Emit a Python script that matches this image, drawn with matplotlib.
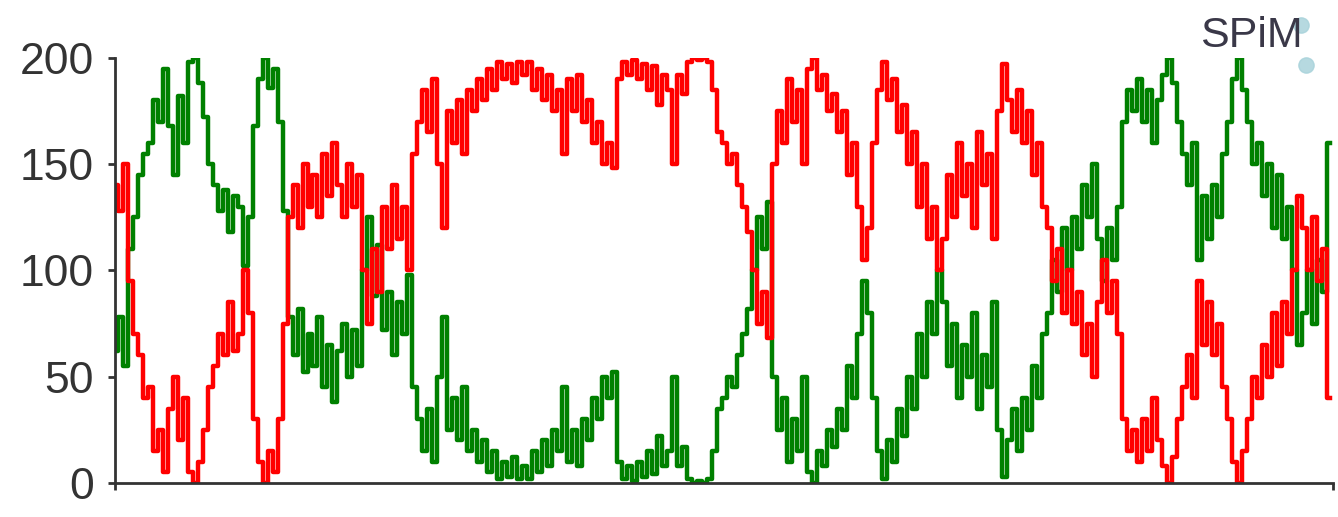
import matplotlib.pyplot as plt

# copy number of the two species over time (one value per step)
red = [140, 128, 150, 95, 70, 60, 40, 45, 15, 25, 5, 35, 50, 20, 40, 5, 0, 10, 25, 45,
       55, 70, 60, 85, 62, 70, 100, 80, 30, 10, 0, 15, 5, 30, 75, 125, 140, 120, 150, 130,
       145, 125, 155, 135, 160, 140, 125, 150, 130, 145, 100, 75, 110, 90, 130, 110, 140, 115, 130, 100,
       155, 170, 185, 165, 190, 150, 120, 175, 160, 180, 155, 185, 175, 190, 180, 195, 185, 198, 190, 197,
       188, 198, 192, 198, 185, 195, 180, 192, 175, 185, 155, 190, 175, 192, 170, 180, 160, 170, 150, 160,
       148, 190, 198, 192, 199, 190, 197, 185, 196, 178, 192, 185, 150, 192, 183, 198, 200, 199, 200, 198,
       185, 165, 160, 150, 155, 140, 130, 118, 100, 75, 90, 68, 150, 175, 160, 190, 170, 185, 150, 195,
       200, 185, 192, 175, 183, 165, 175, 145, 160, 130, 105, 120, 160, 185, 198, 180, 190, 165, 178, 150,
       165, 130, 150, 115, 130, 100, 115, 145, 125, 160, 135, 150, 120, 165, 140, 155, 115, 175, 197, 180,
       165, 185, 160, 175, 145, 160, 130, 120, 95, 110, 80, 100, 75, 90, 60, 75, 50, 85, 105, 80,
       95, 70, 30, 15, 25, 10, 30, 15, 40, 20, 8, 0, 12, 30, 45, 60, 40, 95, 65, 85,
       60, 75, 45, 30, 10, 0, 15, 30, 50, 40, 65, 50, 80, 55, 85, 70, 100, 135, 120, 100,
       125, 95, 110, 40]

green = [62, 78, 55, 110, 125, 145, 155, 160, 180, 170, 195, 168, 145, 182, 160, 198, 200, 188, 172, 150,
         140, 128, 138, 118, 135, 130, 102, 125, 168, 190, 200, 186, 195, 170, 128, 78, 60, 82, 52, 70,
         55, 78, 45, 65, 38, 62, 75, 50, 72, 55, 100, 125, 88, 112, 72, 90, 60, 85, 70, 98,
         45, 30, 15, 35, 10, 50, 78, 25, 40, 20, 45, 15, 25, 10, 20, 5, 15, 2, 10, 3,
         12, 2, 8, 2, 15, 5, 20, 8, 25, 15, 45, 10, 25, 8, 30, 20, 40, 30, 50, 40,
         52, 10, 2, 8, 1, 10, 3, 15, 4, 22, 8, 15, 50, 8, 17, 2, 0, 1, 0, 2,
         15, 35, 40, 50, 45, 60, 70, 82, 100, 125, 110, 132, 50, 25, 40, 10, 30, 15, 50, 5,
         0, 15, 8, 25, 17, 35, 25, 55, 40, 70, 95, 80, 40, 15, 2, 20, 10, 35, 22, 50,
         35, 70, 50, 85, 70, 100, 85, 55, 75, 40, 65, 50, 80, 35, 60, 45, 85, 25, 3, 20,
         35, 15, 40, 25, 55, 40, 70, 80, 105, 90, 120, 100, 125, 110, 140, 125, 150, 115, 95, 120,
         105, 130, 170, 185, 175, 190, 170, 185, 160, 180, 192, 200, 188, 170, 155, 140, 160, 105, 135, 115,
         140, 125, 155, 170, 190, 200, 185, 170, 150, 160, 135, 150, 120, 145, 115, 130, 100, 65, 80, 100,
         75, 105, 90, 160]

steps = list(range(len(red)))

fig = plt.figure(figsize=(13.38, 5.17), dpi=100)
ax = fig.add_axes([0.086, 0.066, 0.91, 0.822])

ax.plot(steps, green, color='#008000', lw=3.2, drawstyle='steps-mid')
ax.plot(steps, red, color='#ff0000', lw=3.2, drawstyle='steps-mid')

ax.set_xlim(0, 243.6)
ax.set_ylim(0, 200)
ax.set_yticks([0, 50, 100, 150, 200])
ax.set_xticks([0, 243.6])
ax.set_xticklabels([])

for side in ['top', 'right']:
    ax.spines[side].set_visible(False)
for side in ['left', 'bottom']:
    ax.spines[side].set_color('#333333')
    ax.spines[side].set_linewidth(2)

ax.tick_params(axis='y', direction='out', length=5, width=2, color='#333333',
               labelsize=32, labelcolor='#333333', pad=10)
ax.tick_params(axis='x', direction='out', length=5, width=2, color='#333333')
for lab in ax.get_yticklabels():
    lab.set_family(['Liberation Sans', 'DejaVu Sans'])

fig.text(0.897, 0.909, 'SPiM', fontsize=31, color='#3a3848',
         family=['Liberation Sans', 'DejaVu Sans'], va='baseline')
fig.add_artist(plt.Line2D([0.972, 0.976], [0.952, 0.874], transform=fig.transFigure,
                          ls='none', marker='o', markersize=11, color='#a9d3db', alpha=0.85))

fig.savefig('out.png', dpi=100)
